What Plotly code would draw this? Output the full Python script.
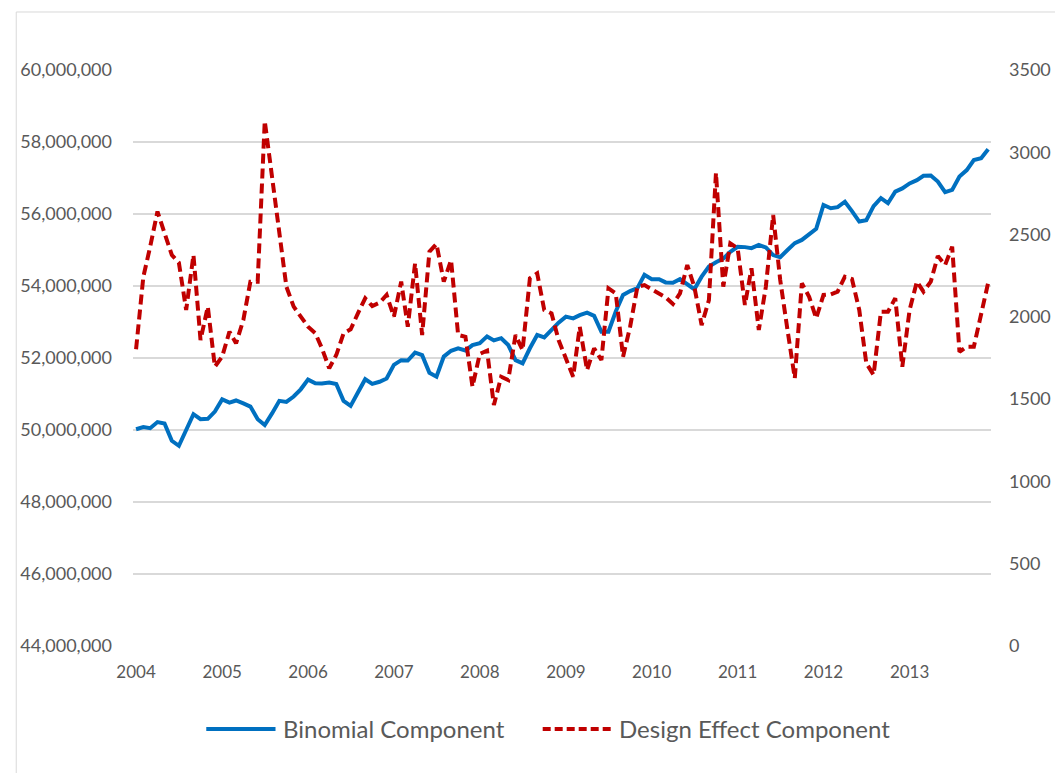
import pandas as pd
import plotly.graph_objects as go

# monthly series, Jan 2004 - Dec 2013
months = pd.date_range("2004-01-01", periods=120, freq="MS")

binomial_millions = [
    50.02, 50.08, 50.05, 50.22, 50.18, 49.70, 49.56, 50.00, 50.44, 50.30, 50.31, 50.51,
    50.85, 50.76, 50.82, 50.74, 50.65, 50.30, 50.14, 50.46, 50.81, 50.78, 50.93, 51.13,
    51.40, 51.30, 51.29, 51.32, 51.28, 50.81, 50.67, 51.04, 51.41, 51.28, 51.34, 51.43,
    51.81, 51.94, 51.93, 52.15, 52.08, 51.59, 51.48, 52.04, 52.20, 52.27, 52.21, 52.36,
    52.41, 52.60, 52.49, 52.55, 52.36, 51.94, 51.85, 52.27, 52.64, 52.57, 52.78, 52.98,
    53.15, 53.10, 53.19, 53.26, 53.17, 52.73, 52.73, 53.29, 53.75, 53.86, 53.94, 54.31,
    54.19, 54.19, 54.10, 54.09, 54.19, 54.03, 53.91, 54.26, 54.54, 54.66, 54.76, 54.95,
    55.09, 55.08, 55.05, 55.14, 55.07, 54.86, 54.80, 55.00, 55.19, 55.28, 55.44, 55.59,
    56.25, 56.16, 56.19, 56.34, 56.08, 55.79, 55.83, 56.22, 56.44, 56.30, 56.62, 56.71,
    56.85, 56.94, 57.06, 57.07, 56.90, 56.61, 56.67, 57.04, 57.22, 57.50, 57.55, 57.80,
]

design_effect = [
    1803, 2244, 2426, 2640, 2509, 2376, 2329, 2042, 2376, 1859, 2062, 1697,
    1758, 1910, 1839, 1981, 2214, 2214, 3190, 2852, 2548, 2183, 2062, 2001,
    1940, 1900, 1809, 1688, 1768, 1900, 1924, 2021, 2113, 2066, 2086, 2133,
    2001, 2214, 1940, 2325, 1890, 2396, 2443, 2214, 2345, 1890, 1879, 1576,
    1775, 1795, 1464, 1636, 1616, 1890, 1798, 2234, 2264, 2042, 2021, 1859,
    1748, 1636, 1940, 1677, 1809, 1738, 2173, 2143, 1758, 1940, 2183, 2193,
    2167, 2143, 2119, 2078, 2143, 2315, 2183, 1950, 2102, 2875, 2183, 2447,
    2417, 2072, 2295, 1920, 2183, 2619, 2224, 1920, 1627, 2204, 2122, 1991,
    2133, 2137, 2153, 2244, 2230, 2042, 1718, 1647, 2031, 2031, 2113, 1697,
    2042, 2214, 2153, 2214, 2370, 2315, 2426, 1788, 1818, 1818, 2021, 2208,
]

binomial = [v * 1e6 for v in binomial_millions]

FONT = "Lato, 'Open Sans', sans-serif"
TEXT_GRAY = "#595959"
GRID_GRAY = "#D9D9D9"
BLUE = "#0070C0"
RED = "#C00000"
RED_DASH = "10px,5px"

fig = go.Figure()
fig.add_trace(
    go.Scatter(
        x=months,
        y=binomial,
        name="Binomial Component",
        mode="lines",
        line=dict(color=BLUE, width=4),
        showlegend=False,
    )
)
fig.add_trace(
    go.Scatter(
        x=months,
        y=design_effect,
        name="Design Effect Component",
        mode="lines",
        yaxis="y2",
        line=dict(color=RED, width=4, dash=RED_DASH),
        showlegend=False,
    )
)

# legend drawn by hand so the sample lines are as long as Excel's
legend_y = -0.144
shapes = [
    dict(type="rect", xref="paper", yref="paper",
         x0=-0.1361, x1=1.09, y0=-0.3, y1=1.1007,
         line=dict(color=GRID_GRAY, width=1), layer="below"),
    dict(type="line", xref="paper", yref="paper",
         x0=0.0854, x1=0.1661, y0=legend_y, y1=legend_y,
         line=dict(color=BLUE, width=4)),
    dict(type="line", xref="paper", yref="paper",
         x0=0.4775, x1=0.5582, y0=legend_y, y1=legend_y,
         line=dict(color=RED, width=4, dash="8px,4px")),
]
annotations = [
    dict(text="Binomial Component", xref="paper", yref="paper",
         x=0.1720, y=legend_y, xanchor="left", yanchor="middle",
         showarrow=False, font=dict(size=24, color=TEXT_GRAY)),
    dict(text="Design Effect Component", xref="paper", yref="paper",
         x=0.5640, y=legend_y, xanchor="left", yanchor="middle",
         showarrow=False, font=dict(size=24, color=TEXT_GRAY)),
]

fig.update_layout(
    width=1055,
    height=765,
    margin=dict(l=122, r=66, t=62, b=127),
    plot_bgcolor="white",
    paper_bgcolor="white",
    font=dict(family=FONT, size=18, color=TEXT_GRAY),
    xaxis=dict(
        range=["2003-12-19", "2013-12-13"],
        tickformat="%Y",
        dtick="M12",
        tick0="2004-01-01",
        showgrid=False,
        showline=False,
        zeroline=False,
        ticks="",
        tickfont=dict(size=17),
        ticklabelstandoff=14,
    ),
    yaxis=dict(
        range=[44e6, 60e6],
        dtick=2e6,
        tickformat=",d",
        showgrid=True,
        gridcolor=GRID_GRAY,
        gridwidth=1.5,
        zeroline=False,
        showline=False,
        ticks="",
        ticklabelstandoff=20,
    ),
    yaxis2=dict(
        range=[0, 3500],
        dtick=500,
        overlaying="y",
        side="right",
        showgrid=False,
        zeroline=False,
        showline=False,
        ticks="",
        ticklabelstandoff=17,
    ),
    shapes=shapes,
    annotations=annotations,
)

fig.write_html("out.html")
